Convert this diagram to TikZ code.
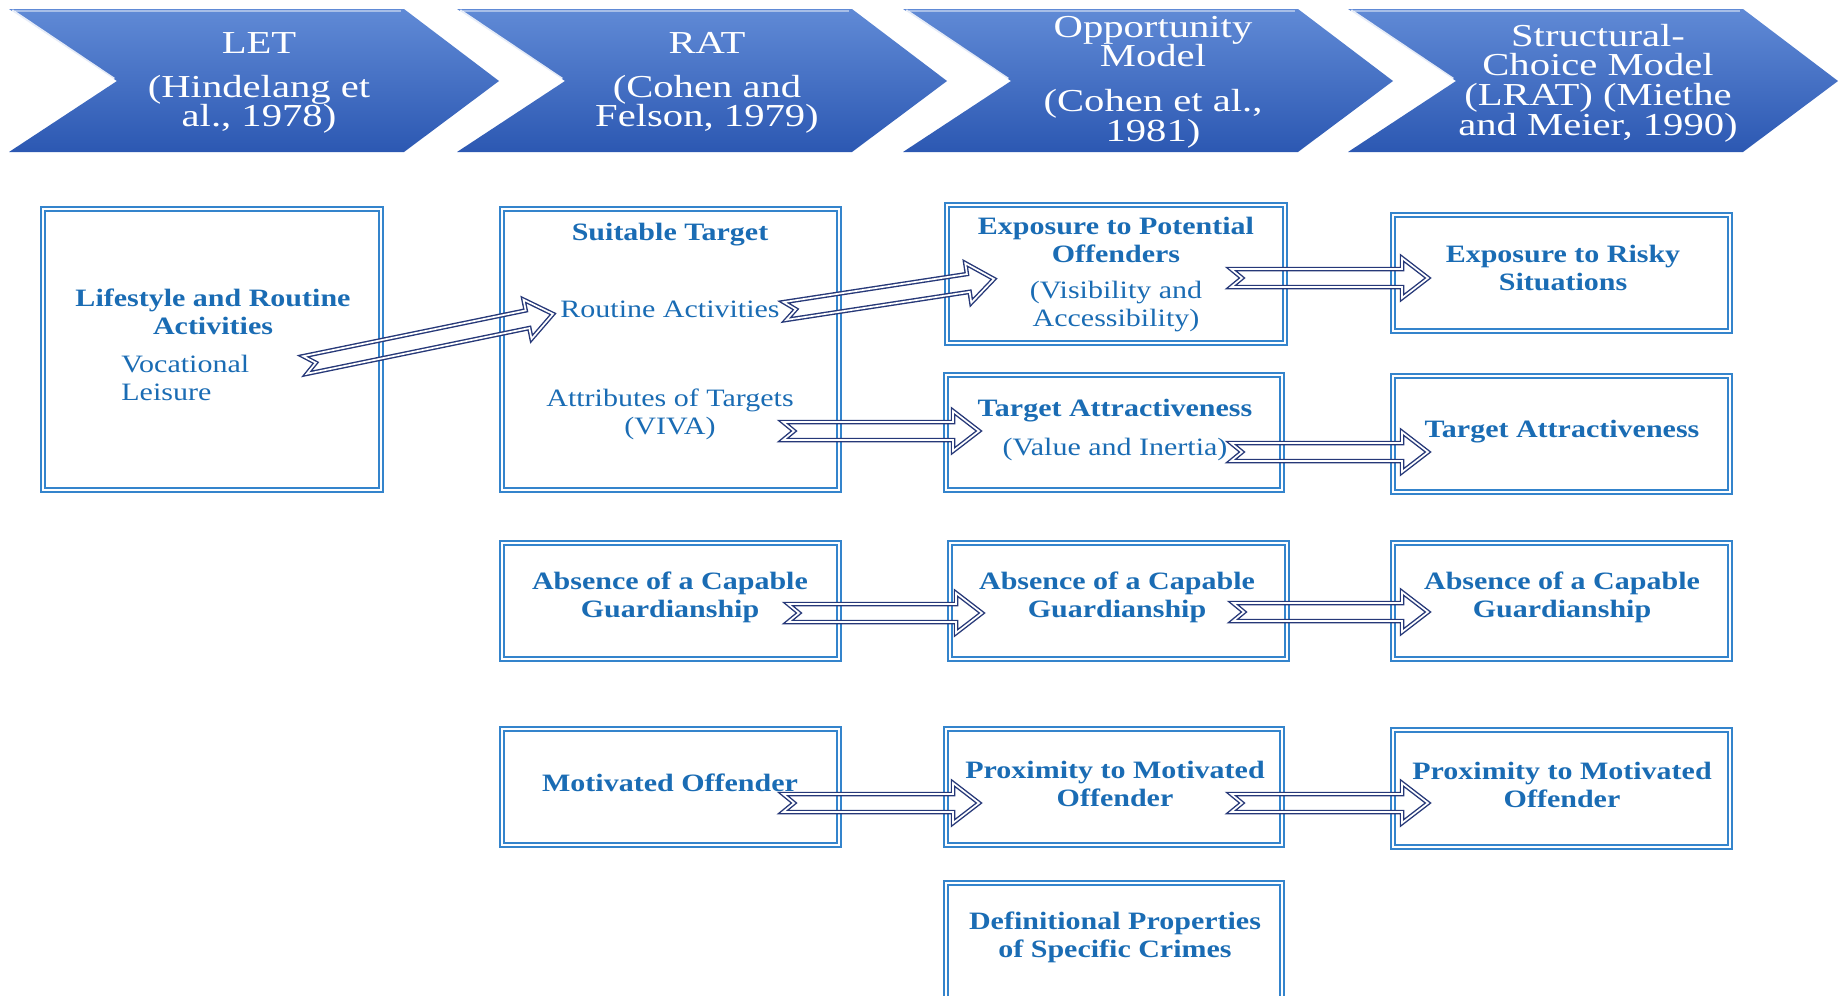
\documentclass[tikz,border=0pt]{standalone}
\usepackage{fontspec}
\setmainfont{Liberation Serif}[FakeStretch=1.2]
\newfontfamily\headfont{Liberation Serif}[FakeStretch=1.27]
\usetikzlibrary{calc,fit}

\definecolor{boxblue}{RGB}{52,132,204}
\definecolor{txtblue}{RGB}{26,108,180}
\definecolor{navy}{RGB}{38,56,120}
\definecolor{chevtop}{RGB}{96,138,214}
\definecolor{chevbot}{RGB}{44,88,178}

\tikzset{
  box/.style={draw=boxblue, double=white, line width=0.9pt, double distance=0.9pt,
              inner sep=0pt, rectangle},
  boldlbl/.style={text=txtblue, font=\fontsize{12.5}{14}\selectfont\bfseries,
                  align=center, inner sep=0pt},
  plainlbl/.style={text=txtblue, font=\fontsize{12.5}{14}\selectfont,
                   align=center, inner sep=0pt},
  headlbl/.style={text=white, font=\headfont\fontsize{16}{14.8}\selectfont, align=center,
                  inner sep=0pt, execute at begin node={\setlength{\lineskiplimit}{-20pt}}},
  chevron/.style={top color=chevtop, bottom color=chevbot, draw=none},
  dblarrowline/.style={draw=navy, double=white, line width=0.7pt,
                       double distance=0.85pt, line join=miter},
}

% header chevron whose left edge is at x = #1
\newcommand\chevronat[1]{%
  \path[chevron] (#1,-9) -- ({#1+395},-9) -- ({#1+490},-81) -- ({#1+395},-152)
     -- (#1,-152) -- ({#1+108},-81) -- cycle;
  \draw[white, opacity=0.45, line width=1pt] ({#1+6},-11) -- ({#1+392},-11);
  \draw[white, opacity=0.85, line width=1.4pt] ({#1+3},-10.5) -- ({#1+105},-79);
}

% hollow block arrow with notched tail, from coordinate #1 to coordinate #2
\newcommand\dblarrow[2]{%
  \path let \p1=(#1), \p2=(#2) in
    \pgfextra{\pgfmathsetmacro\tmpang{atan2(\y2-\y1,\x2-\x1)}\global\let\arrang\tmpang
              \pgfmathsetmacro\tmplen{veclen(\x2-\x1,\y2-\y1)}\global\let\arrlen\tmplen};
  \begin{scope}[shift={(#1)}, rotate=\arrang]
    \draw[dblarrowline] (0pt,4.5pt) -- (\arrlen pt-13pt,4.5pt) -- (\arrlen pt-13pt,10pt)
      -- (\arrlen pt,0pt) -- (\arrlen pt-13pt,-10pt) -- (\arrlen pt-13pt,-4.5pt)
      -- (0pt,-4.5pt) -- (5.5pt,0pt) -- cycle;
  \end{scope}}

\begin{document}
\begin{tikzpicture}[x=0.5pt, y=0.5pt]
  \useasboundingbox (0,0) rectangle (1838,-996);
  \clip (0,0) rectangle (1838,-996);
  \fill[white] (0,0) rectangle (1838,-996);

  % header band
  \chevronat{9}
  \chevronat{457}
  \chevronat{903}
  \chevronat{1348}
  \node[headlbl] (h1) at (259,-83) {LET\\[7pt](Hindelang et\\al., 1978)};
  \node[headlbl] (h2) at (707,-83) {RAT\\[7pt](Cohen and\\Felson, 1979)};
  \node[headlbl] (h3) at (1153,-82) {Opportunity\\Model\\[7.5pt](Cohen et al.,\\1981)};
  \node[headlbl] (h4) at (1598,-83) {Structural-\\Choice Model\\(LRAT) (Miethe\\and Meier, 1990)};

  % boxes
  \node[box, fit={(43,-209) (381,-490)}] (L) {};
  \node[box, fit={(502,-209) (839,-490)}] (S) {};
  \node[box, fit={(947,-205) (1285,-343)}] (E1) {};
  \node[box, fit={(946,-375) (1282,-490)}] (T1) {};
  \node[box, fit={(1393,-215) (1730,-331)}] (E2) {};
  \node[box, fit={(1393,-376) (1730,-492)}] (T2) {};
  \node[box, fit={(502,-543) (839,-659)}] (A1) {};
  \node[box, fit={(950,-543) (1287,-659)}] (A2) {};
  \node[box, fit={(1393,-543) (1730,-659)}] (A3) {};
  \node[box, fit={(502,-729) (839,-845)}] (M1) {};
  \node[box, fit={(946,-729) (1282,-845)}] (M2) {};
  \node[box, fit={(1393,-730) (1730,-847)}] (M3) {};
  \node[box, fit={(946,-883) (1282,-1010)}] (D) {};

  % box texts
  \node[boldlbl] (Lt) at (213,-312) {Lifestyle and Routine\\Activities};
  \node[plainlbl, align=left, anchor=west] (Lv) at (121,-377.5) {Vocational\\Leisure};
  \node[boldlbl] (St) at (670,-235) {Suitable Target};
  \node[plainlbl] (Sr) at (670,-309) {Routine Activities};
  \node[plainlbl] (Sa) at (670,-414) {Attributes of Targets\\(VIVA)};
  \node[boldlbl] (E1t) at (1116,-240) {Exposure to Potential\\Offenders};
  \node[plainlbl] (E1v) at (1116,-307) {(Visibility and\\Accessibility)};
  \node[boldlbl] (T1t) at (1115,-411) {Target Attractiveness};
  \node[plainlbl] (T1v) at (1115,-449) {(Value and Inertia)};
  \node[boldlbl] (E2t) at (1563,-268) {Exposure to Risky\\Situations};
  \node[boldlbl] (T2t) at (1562,-432) {Target Attractiveness};
  \node[boldlbl] (A1t) at (670,-597) {Absence of a Capable\\Guardianship};
  \node[boldlbl] (A2t) at (1117,-597) {Absence of a Capable\\Guardianship};
  \node[boldlbl] (A3t) at (1562,-597) {Absence of a Capable\\Guardianship};
  \node[boldlbl] (M1t) at (670,-783) {Motivated Offender};
  \node[boldlbl] (M2t) at (1115,-783.5) {Proximity to Motivated\\Offender};
  \node[boldlbl] (M3t) at (1562,-784.5) {Proximity to Motivated\\Offender};
  \node[boldlbl] (Dt) at (1115,-937) {Definitional Properties\\of Specific Crimes};

  % arrow end points
  \coordinate (a1s) at (305,-365);  \coordinate (a1e) at (553,-314);
  \coordinate (a2s) at (785,-311);  \coordinate (a2e) at (994,-279);
  \coordinate (a3s) at (783,-431);  \coordinate (a3e) at (979,-431);
  \coordinate (a4s) at (1231,-278); \coordinate (a4e) at (1428,-278);
  \coordinate (a5s) at (1231,-452); \coordinate (a5e) at (1428,-452);
  \coordinate (a6s) at (788,-613);  \coordinate (a6e) at (982,-613);
  \coordinate (a7s) at (1233,-612); \coordinate (a7e) at (1428,-612);
  \coordinate (a8s) at (783,-803);  \coordinate (a8e) at (979,-803);
  \coordinate (a9s) at (1231,-803); \coordinate (a9e) at (1428,-803);

  % arrows
  \dblarrow{a1s}{a1e}
  \dblarrow{a2s}{a2e}
  \dblarrow{a3s}{a3e}
  \dblarrow{a4s}{a4e}
  \dblarrow{a5s}{a5e}
  \dblarrow{a6s}{a6e}
  \dblarrow{a7s}{a7e}
  \dblarrow{a8s}{a8e}
  \dblarrow{a9s}{a9e}
\end{tikzpicture}
\end{document}
